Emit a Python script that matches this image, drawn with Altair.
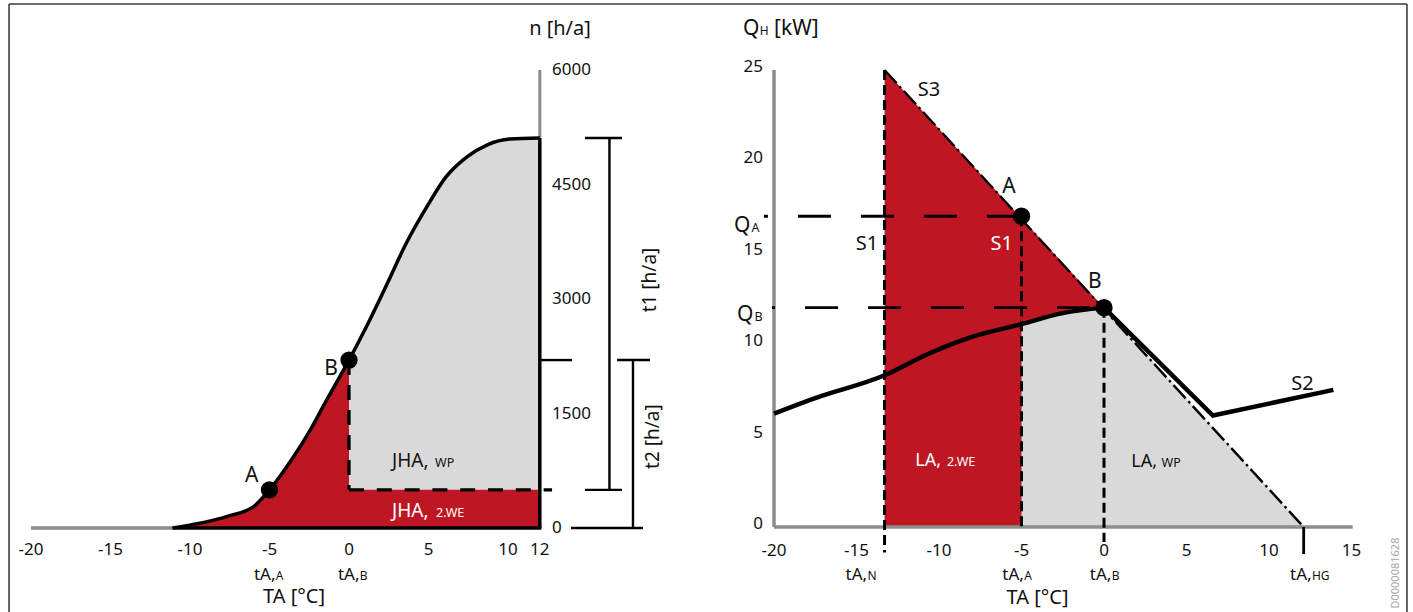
import altair as alt
import pandas as pd

RED = "#BE1622"
GREY_FILL = "#D9D9D9"
GREY_AXIS = "#8C8C8C"
INK = "#111111"
WHITE = "#FFFFFF"
FONT = "Noto Sans"

# ================= LEFT PANEL DATA (n [h/a] over TA [°C]) =================
curve_ta = [-11.1, -7.7, -6.0, -5.0, -3.5, -2.45, -1.4, 0.0, 1.1, 2.4, 3.6, 4.9, 6.1, 7.4, 8.7, 10.1, 12.0]
curve_n = [0, 150, 280, 500, 930, 1280, 1680, 2200, 2640, 3200, 3730, 4210, 4600, 4860, 5020, 5095, 5110]
left_xticks = [-20, -15, -10, -5, 0, 5, 10, 12]
left_yticks = [0, 1500, 3000, 4500, 6000]
left_pt_names = ["A", "B"]
left_pt_ta = [-5.0, 0.0]
left_pt_n = [500, 2200]
L_TA_MIN, L_TA_MAX = -20, 12
L_N_TOP = 6000
L_N_BIV = 500      # level of JHA,2.WE block
L_N_MAX = 5110     # end of curve

# ================= RIGHT PANEL DATA (QH [kW] over TA [°C]) =================
s2_curve_ta = [-20, -17.5, -13.3, -10.7, -8.0, -5.0, -2.5, 0.0]
s2_curve_q = [6.2, 7.05, 8.3, 9.45, 10.4, 11.1, 11.7, 12.0]
s2_line_ta = [0.0, 6.6, 13.9]
s2_line_q = [12.0, 6.1, 7.5]
s3_ta = [-13.3, 12.1]
s3_q = [25, 0]
right_xticks = [-20, -15, -10, -5, 0, 5, 10, 15]
right_yticks = [0, 5, 10, 15, 20, 25]
right_pt_names = ["A", "B"]
right_pt_ta = [-5.0, 0.0]
right_pt_q = [17.0, 12.0]
TA_N, TA_A, TA_B, TA_HG = -13.3, -5.0, 0.0, 12.1
R_TA_MIN, R_TA_MAX = -20, 15.07
R_Q_TOP = 25

# ================= scales =================
LX = alt.Scale(domain=[-21.95, 22.075], nice=False, zero=False)
LY = alt.Scale(domain=[-1100.4, 6917.1], nice=False, zero=False)
RX = alt.Scale(domain=[-24.485, 18.727], nice=False, zero=False)
RY = alt.Scale(domain=[-4.650, 28.829], nice=False, zero=False)


def seg(rows, xs, ys, **mark):
    df = pd.DataFrame(rows, columns=["x", "y", "x2", "y2"])
    return alt.Chart(df).mark_rule(**mark).encode(
        x=alt.X("x:Q", scale=xs, axis=None), y=alt.Y("y:Q", scale=ys, axis=None),
        x2="x2:Q", y2="y2:Q")


def area(xv, yv, base, xs, ys, **mark):
    df = pd.DataFrame({"x": xv, "y": yv, "b": base})
    return alt.Chart(df).mark_area(**mark).encode(
        x=alt.X("x:Q", scale=xs, axis=None), y=alt.Y("y:Q", scale=ys, axis=None), y2="b:Q")


def line(xv, yv, xs, ys, **mark):
    df = pd.DataFrame({"x": xv, "y": yv})
    return alt.Chart(df).mark_line(**mark).encode(
        x=alt.X("x:Q", scale=xs, axis=None), y=alt.Y("y:Q", scale=ys, axis=None))


def points(xv, yv, xs, ys):
    df = pd.DataFrame({"x": xv, "y": yv})
    return alt.Chart(df).mark_circle(size=300, color="black", opacity=1).encode(
        x=alt.X("x:Q", scale=xs, axis=None), y=alt.Y("y:Q", scale=ys, axis=None))


def texts(rows, xs, ys, align, baseline, dy=0):
    df = pd.DataFrame(rows, columns=["x", "y", "text", "size", "color", "angle"])
    return alt.Chart(df).mark_text(font=FONT, align=align, baseline=baseline, dy=dy).encode(
        x=alt.X("x:Q", scale=xs, axis=None), y=alt.Y("y:Q", scale=ys, axis=None),
        text="text:N",
        size=alt.Size("size:Q", scale=None, legend=None),
        color=alt.Color("color:N", scale=None, legend=None),
        angle=alt.Angle("angle:Q", scale=None))


# ================= LEFT PANEL =================
gray_ta = [t for t in curve_ta if t >= 0]
gray_n = [n for t, n in zip(curve_ta, curve_n) if t >= 0]
L_SUB_Y = -675

left_layers = [
    area(curve_ta, curve_n, [0] * len(curve_ta), LX, LY, color=RED, interpolate="monotone"),
    area([0, L_TA_MAX], [L_N_BIV, L_N_BIV], [0, 0], LX, LY, color=RED),
    area(gray_ta, gray_n, [L_N_BIV] * len(gray_ta), LX, LY, color=GREY_FILL, interpolate="monotone"),
    seg([[L_TA_MIN, 0, curve_ta[0], 0]], LX, LY, color=GREY_AXIS, strokeWidth=3.5),
    seg([[L_TA_MAX, L_N_MAX, L_TA_MAX, L_N_TOP]], LX, LY, color=GREY_AXIS, strokeWidth=3),
    seg([[curve_ta[0], 0, L_TA_MAX + 0.1, 0], [L_TA_MAX, 0, L_TA_MAX, L_N_MAX]], LX, LY,
        color="black", strokeWidth=3.5),
    seg([[0, 2200, 0, L_N_BIV]], LX, LY, color="black", strokeWidth=3.2, strokeDash=[15, 10]),
    seg([[0, L_N_BIV, 12.77, L_N_BIV]], LX, LY, color="black", strokeWidth=3.2, strokeDash=[15, 12.8]),
    line(curve_ta, curve_n, LX, LY, color="black", strokeWidth=3.5, interpolate="monotone"),
    # t1 / t2 brackets
    seg([[16.38, L_N_BIV, 16.38, L_N_MAX],
         [14.84, L_N_MAX, 17.17, L_N_MAX],
         [14.84, L_N_BIV, 17.17, L_N_BIV],
         [17.86, 0, 17.86, 2200],
         [16.86, 2200, 18.93, 2200],
         [13.96, 0, 18.49, 0],
         [12.08, 2200, 14.03, 2200]], LX, LY, color="black", strokeWidth=2.4),
    points(left_pt_ta, left_pt_n, LX, LY),
    texts([[v, -360, str(v), 17, INK, 0] for v in left_xticks]
          + [[-3.46, -982, "TA [°C]", 20, INK, 0],
             [13.27, 6459, "n [h/a]", 20, INK, 0],
             [-6.12, 607, left_pt_names[0], 21, INK, 0],
             [-1.13, 2004, left_pt_names[1], 21, INK, 0]],
          LX, LY, "center", "alphabetic"),
    texts([[12.77, v, str(v), 17, INK, 0] for v in left_yticks], LX, LY, "left", "middle"),
    texts([[-4.62, L_SUB_Y, "tA,", 17, INK, 0],
           [0.66, L_SUB_Y, "tA,", 17, INK, 0],
           [5.0, 803, "JHA,", 19, INK, 0],
           [5.0, 148, "JHA,", 19, WHITE, 0]], LX, LY, "right", "alphabetic"),
    texts([[-4.60, L_SUB_Y, "A", 12, INK, 0],
           [0.68, L_SUB_Y, "B", 12, INK, 0],
           [5.41, 803, "WP", 12.5, INK, 0],
           [5.47, 148, "2.WE", 12.5, WHITE, 0]], LX, LY, "left", "alphabetic"),
    texts([[18.93, 3249, "t1 [h/a]", 19, INK, 270],
           [19.12, 1197, "t2 [h/a]", 19, INK, 270]], LX, LY, "center", "middle"),
    # outer frame (left & top)
    seg([[-21.38, -1100.4, -21.38, 6865], [-21.38, 6865, 22.075, 6865]], LX, LY,
        color="#3c3c3c", strokeWidth=1.6),
]
left = alt.layer(*left_layers).properties(width=700, height=612)

# ================= RIGHT PANEL =================
g_ta = [t for t in s2_curve_ta if t >= TA_A]
g_q = [q for t, q in zip(s2_curve_ta, s2_curve_q) if t >= TA_A]
R_SUB_Y = -2.88

right_layers = [
    area([TA_N, TA_B], [s3_q[0], right_pt_q[1]], [0, 0], RX, RY, color=RED),
    area(g_ta, g_q, [0] * len(g_ta), RX, RY, color=GREY_FILL, interpolate="monotone"),
    area([TA_B, TA_HG], [right_pt_q[1], 0], [0, 0], RX, RY, color=GREY_FILL),
    seg([[R_TA_MIN, 0, R_TA_MAX, 0], [R_TA_MIN, 0, R_TA_MIN, R_Q_TOP]], RX, RY,
        color=GREY_AXIS, strokeWidth=3.5),
    seg([[TA_N, R_Q_TOP, TA_N, -1.4],
         [TA_A, right_pt_q[0], TA_A, 0],
         [TA_B, right_pt_q[1], TA_B, -0.82]], RX, RY,
        color="black", strokeWidth=3, strokeDash=[10, 5]),
    seg([[-20.61, right_pt_q[0], TA_A, right_pt_q[0]]], RX, RY,
        color="black", strokeWidth=2.8, strokeDash=[33, 30], strokeDashOffset=29),
    seg([[-20.12, right_pt_q[1], TA_B, right_pt_q[1]]], RX, RY,
        color="black", strokeWidth=2.8, strokeDash=[33, 30], strokeDashOffset=30),
    line(s3_ta, s3_q, RX, RY, color="black", strokeWidth=2.4, strokeDash=[18, 4, 2.5, 4]),
    line(s2_curve_ta, s2_curve_q, RX, RY, color="black", strokeWidth=4.5, interpolate="monotone"),
    line(s2_line_ta, s2_line_q, RX, RY, color="black", strokeWidth=4.5),
    seg([[TA_HG, 0, TA_HG, -1.48]], RX, RY, color="black", strokeWidth=2.8),
    points(right_pt_ta, right_pt_q, RX, RY),
    texts([[v, -1.6, str(v), 17, INK, 0] for v in right_xticks]
          + [[-4.03, -4.21, "TA [°C]", 20, INK, 0],
             [-5.76, 18.27, right_pt_names[0], 21, INK, 0],
             [-0.55, 13.07, right_pt_names[1], 21, INK, 0],
             [-10.61, 23.58, "S3", 20, INK, 0],
             [-14.36, 15.15, "S1", 20, INK, 0],
             [-6.2, 15.15, "S1", 20, WHITE, 0],
             [12.03, 7.49, "S2", 20, INK, 0]],
          RX, RY, "center", "alphabetic"),
    texts([[-20.67, v, str(v), 17, INK, 0] for v in right_yticks], RX, RY, "right", "middle", dy=-3),
    texts([[-14.36, R_SUB_Y, "tA,", 17, INK, 0],
           [-4.86, R_SUB_Y, "tA,", 17, INK, 0],
           [0.45, R_SUB_Y, "tA,", 17, INK, 0],
           [12.58, R_SUB_Y, "tA,", 17, INK, 0],
           [-9.88, 3.36, "LA,", 18, WHITE, 0],
           [3.21, 3.29, "LA,", 18, INK, 0]], RX, RY, "right", "alphabetic"),
    texts([[-14.34, R_SUB_Y, "N", 12, INK, 0],
           [-4.84, R_SUB_Y, "A", 12, INK, 0],
           [0.47, R_SUB_Y, "B", 12, INK, 0],
           [12.60, R_SUB_Y, "HG", 12, INK, 0],
           [-9.52, 3.36, "2.WE", 12.5, WHITE, 0],
           [3.49, 3.29, "WP", 12.5, INK, 0],
           [-21.88, 26.91, "Q", 21, INK, 0],
           [-20.87, 26.91, "H", 12, INK, 0],
           [-20.0, 26.91, "[kW]", 21, INK, 0],
           [-22.42, 16.14, "Q", 21, INK, 0],
           [-21.36, 16.14, "A", 12.5, INK, 0],
           [-22.24, 11.27, "Q", 21, INK, 0],
           [-21.18, 11.27, "B", 12.5, INK, 0]], RX, RY, "left", "alphabetic"),
    texts([[17.70, -2.52, "D0000081628", 11, "#a8a8a8", 270]], RX, RY, "center", "middle"),
    # outer frame (top & right)
    seg([[-24.485, 28.61, 18.36, 28.61], [18.36, 28.61, 18.36, -4.65]], RX, RY,
        color="#3c3c3c", strokeWidth=1.6),
]
right = alt.layer(*right_layers).properties(width=713, height=612)

chart = alt.hconcat(left, right, spacing=0, bounds="flush").properties(
    padding=0, background="white"
).configure_view(stroke=None)

chart.save("out.html", embed_options={"renderer": "svg", "actions": False})
